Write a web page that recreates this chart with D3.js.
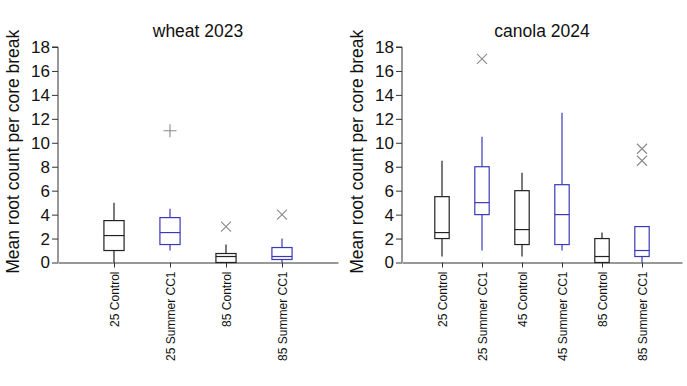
<!DOCTYPE html>
<html>
<head>
<meta charset="utf-8">
<script src="https://cdnjs.cloudflare.com/ajax/libs/d3/7.8.5/d3.min.js"></script>
<style>
  body { margin: 0; background: #fff; }
  text { font-family: "Liberation Sans", Arial, sans-serif; fill: #111; }
</style>
</head>
<body>
<div id="chart"></div>
<script>
// wheat 2023
var wheatCats = ["25 Control", "25 Summer CC1", "85 Control", "85 Summer CC1"];
var wheatLow = [0, 1, 0, 0];
var wheatQ1 = [1, 1.5, 0, 0.25];
var wheatMed = [2.25, 2.5, 0.5, 0.5];
var wheatQ3 = [3.5, 3.75, 0.75, 1.25];
var wheatHigh = [5, 4.5, 1.5, 2];
var wheatOut = [[], [11], [3], [4]];
var wheatOutShape = ["x", "+", "x", "x"];

// canola 2024
var canolaCats = ["25 Control", "25 Summer CC1", "45 Control", "45 Summer CC1", "85 Control", "85 Summer CC1"];
var canolaLow = [0.5, 1, 0.5, 1, 0, 0];
var canolaQ1 = [2, 4, 1.5, 1.5, 0, 0.5];
var canolaMed = [2.5, 5, 2.75, 4, 0.5, 1];
var canolaQ3 = [5.5, 8, 6, 6.5, 2, 3];
var canolaHigh = [8.5, 10.5, 7.5, 12.5, 2.5, 3];
var canolaOut = [[], [17], [], [], [], [8.5, 9.5]];
var canolaOutShape = ["x", "x", "x", "x", "x", "x"];

var yTicks = [0, 2, 4, 6, 8, 10, 12, 14, 16, 18];
var colors = ["#222222", "#3a3ab8"];

var svg = d3.select("#chart").append("svg")
  .attr("width", 687).attr("height", 386);

function drawPanel(opt) {
  var cats = opt.cats;
  var x = d3.scaleLinear().domain([0, cats.length + 1]).range([opt.x0, opt.x1]);
  var y = d3.scaleLinear().domain([0, 18]).range([262.5, 47]);
  var step = x(1) - x(0);
  var bw = step * 0.36;
  var g = svg.append("g");

  // title
  g.append("text")
    .attr("x", (opt.x0 + opt.x1) / 2).attr("y", 37)
    .attr("text-anchor", "middle")
    .style("font-size", "17.5px")
    .text(opt.title);

  // y axis
  var ya = g.append("g").attr("transform", "translate(" + opt.x0 + ",0)")
    .call(d3.axisLeft(y).tickValues(yTicks).tickSize(6).tickPadding(2));
  ya.select(".domain").attr("stroke", "#333").attr("d", "M-6," + y(18) + "H0V" + y(0));
  ya.selectAll("line").attr("stroke", "#333");
  ya.selectAll("text").style("font-size", "17px").attr("fill", "#111")
    .style("font-family", "'Liberation Sans', Arial, sans-serif");

  // y title
  g.append("text")
    .attr("transform", "translate(" + (opt.x0 - 39) + "," + ((y(0) + y(18)) / 2 - 3) + ") rotate(-90)")
    .attr("text-anchor", "middle")
    .style("font-size", "17.5px")
    .text("Mean root count per core break");

  // x axis
  var xa = g.append("g").attr("transform", "translate(0," + y(0) + ")")
    .call(d3.axisBottom(x).tickValues(d3.range(1, cats.length + 1)).tickSize(5).tickSizeOuter(0)
      .tickFormat(function (d) { return cats[d - 1]; }));
  xa.select(".domain").attr("stroke", "#333");
  xa.selectAll("line").attr("stroke", "#333");
  xa.selectAll("text")
    .style("font-size", "12px").attr("fill", "#111")
    .style("font-family", "'Liberation Sans', Arial, sans-serif")
    .attr("text-anchor", "end")
    .attr("transform", "rotate(-90)")
    .attr("x", -9).attr("y", 0).attr("dy", "0.35em");

  // boxes
  cats.forEach(function (c, i) {
    var cx = x(i + 1);
    var col = colors[i % 2];
    var b = g.append("g").attr("stroke", col).attr("fill", "none").attr("stroke-width", 1.2);
    b.append("line").attr("x1", cx).attr("x2", cx).attr("y1", y(opt.low[i])).attr("y2", y(opt.q1[i]));
    b.append("line").attr("x1", cx).attr("x2", cx).attr("y1", y(opt.q3[i])).attr("y2", y(opt.high[i]));
    b.append("rect").attr("x", cx - bw / 2).attr("width", bw)
      .attr("y", y(opt.q3[i])).attr("height", y(opt.q1[i]) - y(opt.q3[i]));
    b.append("line").attr("x1", cx - bw / 2).attr("x2", cx + bw / 2)
      .attr("y1", y(opt.med[i])).attr("y2", y(opt.med[i]));

    opt.out[i].forEach(function (v) {
      var s = 6.5, oy = y(v);
      var p = opt.shape[i] === "+"
        ? "M" + (cx - s) + "," + oy + "H" + (cx + s) + "M" + cx + "," + (oy - s) + "V" + (oy + s)
        : "M" + (cx - 5) + "," + (oy - 5) + "L" + (cx + 5) + "," + (oy + 5) +
          "M" + (cx - 5) + "," + (oy + 5) + "L" + (cx + 5) + "," + (oy - 5);
      g.append("path").attr("d", p).attr("stroke", "#8a8a8a").attr("stroke-width", 1.1).attr("fill", "none");
    });
  });
}

drawPanel({ title: "wheat 2023", cats: wheatCats, x0: 58, x1: 338,
  low: wheatLow, q1: wheatQ1, med: wheatMed, q3: wheatQ3, high: wheatHigh,
  out: wheatOut, shape: wheatOutShape });
drawPanel({ title: "canola 2024", cats: canolaCats, x0: 402, x1: 682,
  low: canolaLow, q1: canolaQ1, med: canolaMed, q3: canolaQ3, high: canolaHigh,
  out: canolaOut, shape: canolaOutShape });
</script>
</body>
</html>
